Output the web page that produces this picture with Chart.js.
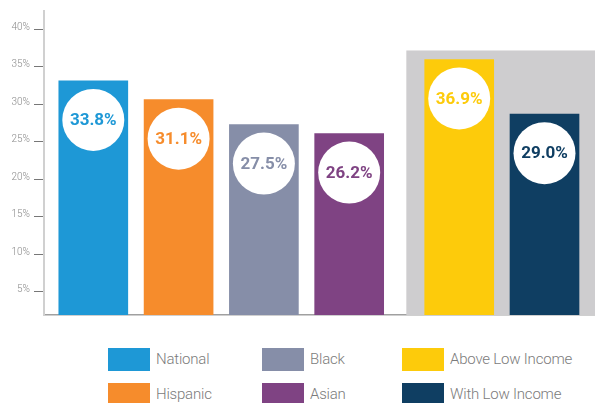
<!DOCTYPE html>
<html>
<head>
<meta charset="utf-8">
<title>Share by group</title>
<script src="https://cdn.jsdelivr.net/npm/chart.js@4.4.1/dist/chart.umd.min.js"></script>
<style>
  body { margin: 0; background: #fff; font-family: Roboto, sans-serif; }
  #wrap { position: relative; width: 595px; height: 403px; overflow: hidden; }
  #bar-chart { position: absolute; left: 0; top: 0; }
  #legend {
    position: absolute; left: 108px; top: 348px;
    display: grid; grid-auto-flow: column;
    grid-template-rows: 35px 35px;
    grid-template-columns: 154px 140px auto;
  }
  .item { display: flex; align-items: flex-start; }
  .swatch { width: 42px; height: 23px; margin-right: 6px; }
  .item span { font-size: 15px; font-weight: 300; color: #7b7b7b; line-height: 23px; white-space: nowrap; letter-spacing: -0.2px; }
</style>
</head>
<body>
<div id="wrap">
  <canvas id="bar-chart" width="595" height="325"></canvas>
  <div id="legend"></div>
</div>
<script>
var raceLabels = ['National', 'Hispanic', 'Black', 'Asian'];
var raceValues = [33.8, 31.1, 27.5, 26.2];
var incomeLabels = ['Above Low Income', 'With Low Income'];
var incomeValues = [36.9, 29.0];
var tickValues = [5, 10, 15, 20, 25, 30, 35, 40];

var raceColors = ['#1e98d6', '#f68c2c', '#868ea8', '#7f4383'];
var incomeColors = ['#fdcb0b', '#0f3e62'];

// income bars sit a bit further right, inside the grey panel
var incomeGap = 0.29;

Chart.defaults.font.family = 'Roboto, sans-serif';

// grey panel behind the income pair
var shadePanel = {
  id: 'shadePanel',
  beforeDatasetsDraw: function(chart) {
    var ctx = chart.ctx, area = chart.chartArea;
    var left = chart.scales.x.getPixelForValue(raceLabels.length + incomeGap - 0.62);
    var top = chart.scales.y.getPixelForValue(38.2);
    ctx.save();
    ctx.fillStyle = '#cecdcf';
    ctx.fillRect(left, top, area.right - left, area.bottom - top);
    ctx.restore();
  }
};

// white disc with the value near the top of each bar
var valueBubbles = {
  id: 'valueBubbles',
  afterDatasetsDraw: function(chart) {
    var ctx = chart.ctx;
    chart.data.datasets.forEach(function(ds, di) {
      chart.getDatasetMeta(di).data.forEach(function(bar, i) {
        var cy = bar.y + 39;
        ctx.save();
        ctx.beginPath();
        ctx.arc(bar.x, cy, 31, 0, Math.PI * 2);
        ctx.fillStyle = '#fff';
        ctx.fill();
        ctx.fillStyle = ds.backgroundColor[i];
        ctx.font = '700 17px Roboto, sans-serif';
        ctx.textAlign = 'center';
        ctx.textBaseline = 'middle';
        ctx.fillText(ds.data[i].y.toFixed(1) + '%', bar.x, cy + 1);
        ctx.restore();
      });
    });
  }
};

function barChart() {
  var raceData = raceValues.map(function(v, i) { return { x: i, y: v }; });
  var incomeData = incomeValues.map(function(v, i) {
    return { x: raceLabels.length + incomeGap + i, y: v };
  });

  new Chart(document.getElementById('bar-chart'), {
    type: 'bar',
    data: {
      datasets: [{
        label: 'Race / ethnicity',
        data: raceData,
        backgroundColor: raceColors
      }, {
        label: 'Income',
        data: incomeData,
        backgroundColor: incomeColors
      }]
    },
    options: {
      responsive: false,
      animation: false,
      grouped: false,
      barThickness: 69,
      layout: { padding: { top: 11, bottom: 10, left: 0, right: 0 } },
      plugins: {
        legend: { display: false },
        tooltip: { enabled: false }
      },
      scales: {
        x: {
          type: 'linear',
          offset: false,
          min: -0.578,
          max: 5.882,
          grid: { display: false, drawTicks: false },
          ticks: { display: false },
          border: { display: true, color: '#a0a0a0', width: 1.5 }
        },
        y: {
          display: false,
          min: 0,
          max: 43.9
        },
        yTicks: {
          position: 'left',
          min: 1.89,
          max: 42.44,
          afterBuildTicks: function(scale) {
            scale.ticks = tickValues.map(function(v) { return { value: v }; });
          },
          afterFit: function(scale) { scale.width = 44; },
          ticks: {
            padding: 4,
            labelOffset: -2,
            color: '#8a8a8a',
            font: { size: 10, weight: 300 },
            callback: function(v) { return v + '%'; }
          },
          grid: { drawOnChartArea: false, tickLength: 10, color: '#777', lineWidth: 1 },
          border: { color: '#d0d0d0', width: 2 }
        }
      }
    },
    plugins: [shadePanel, valueBubbles]
  });
}

function buildLegend() {
  var labels = raceLabels.concat(incomeLabels);
  var colors = raceColors.concat(incomeColors);
  var box = document.getElementById('legend');
  labels.forEach(function(name, i) {
    var item = document.createElement('div');
    item.className = 'item';
    var sw = document.createElement('div');
    sw.className = 'swatch';
    sw.style.background = colors[i];
    var txt = document.createElement('span');
    txt.textContent = name;
    item.appendChild(sw);
    item.appendChild(txt);
    box.appendChild(item);
  });
}

barChart();
buildLegend();
</script>
</body>
</html>
